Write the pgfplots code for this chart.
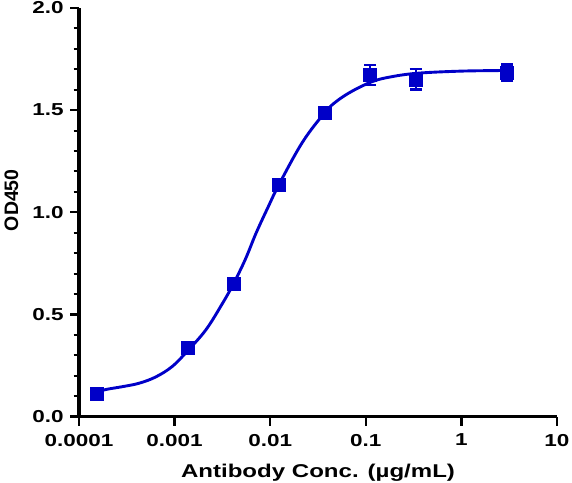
\documentclass[border=0pt]{standalone}
\usepackage{fontspec}
\setmainfont{Liberation Sans}
\newfontfamily\widefont{Liberation Sans}[FakeStretch=1.3]
\usepackage{pgfplots}
\pgfplotsset{compat=1.18}
\definecolor{curveblue}{RGB}{0,0,200}

\begin{document}
\begin{tikzpicture}
\begin{axis}[
   name=ax,
   scale only axis,
   width=478pt, height=408.5pt,
   xmode=log, log basis x=10,
   xmin=0.0001, xmax=10,
   ymin=0, ymax=2,
   xtick={0.0001,0.001,0.01,0.1,1,10},
   xticklabels={0.0001,0.001,0.01,0.1,1,10},
   ytick={0,0.5,1,1.5,2},
   minor y tick num=4,
   axis x line=bottom,
   axis y line=left,
   axis line style={line width=3.4pt,-},
   tick align=outside,
   major tick length=9pt,
   minor tick length=5.5pt,
   every tick/.style={black,line width=2.4pt},
   minor tick style={line width=2pt},
   ticklabel style={font=\widefont\bfseries\fontsize{17.3}{19}\selectfont},
   xticklabel style={yshift=-5pt},
   yticklabel style={xshift=-3pt,/pgf/number format/.cd,fixed,fixed zerofill,precision=1,assume math mode=true},
   xlabel={Antibody Conc. (µg/mL)},
   ylabel={OD450},
   xlabel style={font=\widefont\bfseries\fontsize{18.5}{21}\selectfont, yshift=-10.5pt},
   ylabel style={font=\bfseries\fontsize{19.5}{22}\selectfont, yshift=7pt, xshift=12pt},
   clip=false
]

% fitted curve
\addplot [curveblue, line width=2.9pt, smooth, tension=0.6] coordinates {
   (0.000152, 0.118)
   (0.000190, 0.132)
   (0.000284, 0.146)
   (0.000426, 0.163)
   (0.000637, 0.194)
   (0.000951, 0.246)
   (0.00137,  0.322)
   (0.00213,  0.425)
   (0.00318,  0.555)
   (0.00412,  0.649)
   (0.0055,   0.770)
   (0.00712,  0.898)
   (0.0095,   1.025)
   (0.0124,   1.137)
   (0.0219,   1.345)
   (0.0375,   1.489)
   (0.05,     1.545)
   (0.0733,   1.595)
   (0.1145,   1.638)
   (0.17,     1.660)
   (0.334,    1.680)
   (1.0,      1.691)
   (2.97,     1.694)
};

% measured points with error bars
\addplot [curveblue, only marks, mark=square*, mark size=6.5pt,
   error bars/.cd, y dir=both, y explicit,
   error bar style={line width=2.4pt, curveblue},
   error mark options={rotate=90, mark size=6pt, line width=2.4pt, curveblue}
] coordinates {
   (0.000152, 0.114) +- (0, 0.0)
   (0.00137,  0.339) +- (0, 0.01)
   (0.00412,  0.649) +- (0, 0.0)
   (0.0123,   1.137) +- (0, 0.015)
   (0.037,    1.489) +- (0, 0.0)
   (0.111,    1.672) +- (0, 0.05)
   (0.333,    1.651) +- (0, 0.05)
   (3.0,      1.684) +- (0, 0.04)
};
\end{axis}
\pgfresetboundingbox
\path[use as bounding box] (ax.south west) ++(-79pt,-65.5pt) rectangle ++(572pt,482pt);
\end{tikzpicture}
\end{document}
